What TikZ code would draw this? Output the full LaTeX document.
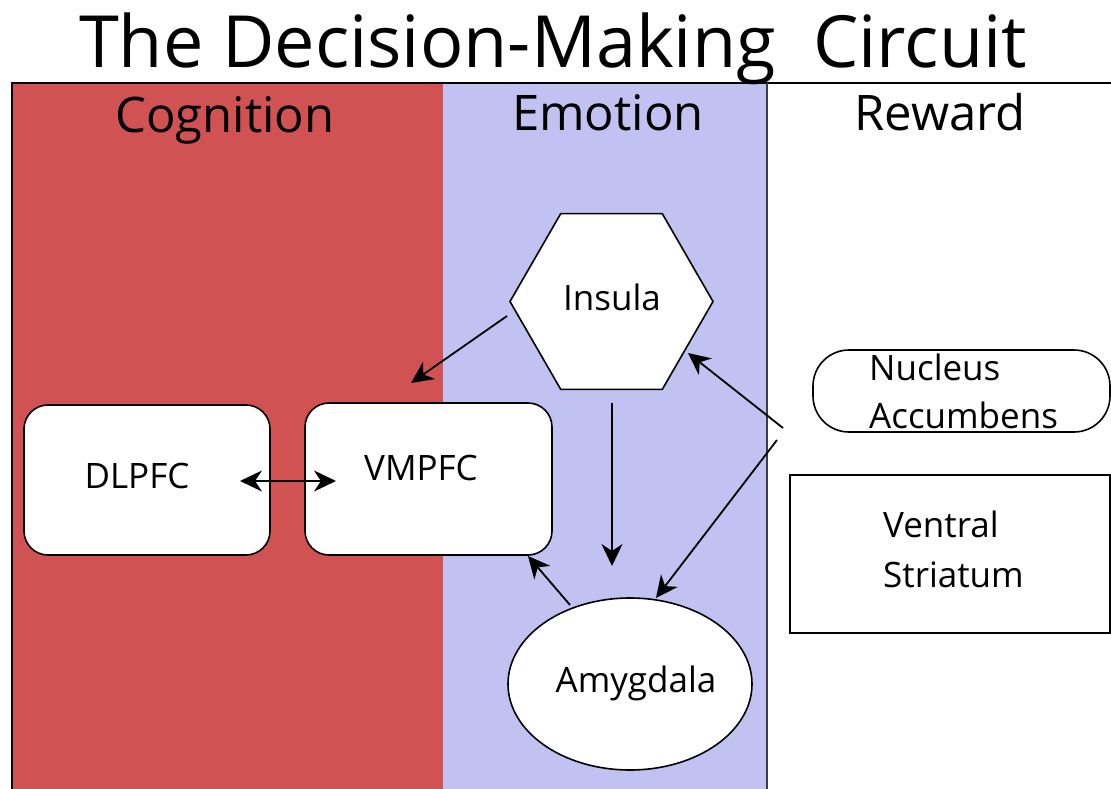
\documentclass[tikz,border=0pt]{standalone}
\usepackage{fontspec}
\setmainfont{Open Sans}
\usetikzlibrary{shapes.geometric,arrows.meta}
\definecolor{cogred}{RGB}{208,82,82}
\definecolor{emoblue}{RGB}{193,193,242}
\definecolor{divgray}{RGB}{60,60,70}
\begin{document}
\begin{tikzpicture}[x=1pt,y=-1pt,
  shapeline/.style={draw=black,line width=1.6pt,fill=white},
  rbox/.style={shapeline,rounded corners=24pt,inner sep=0pt},
  lbl/.style={font=\fontsize{35}{40}\selectfont,anchor=base,inner sep=0pt},
  lblw/.style={font=\fontsize{35}{40}\selectfont,anchor=base west,inner sep=0pt},
  hdr/.style={font=\fontsize{49}{54}\selectfont,anchor=base,inner sep=0pt},
  arr/.style={line width=1.8pt,-{Stealth[length=22pt,width=21pt,inset=7pt]}},
  darr/.style={line width=1.8pt,{Stealth[length=22pt,width=21pt,inset=7pt]}-{Stealth[length=22pt,width=21pt,inset=7pt]}}]
\useasboundingbox (0,0) rectangle (1111,789);
\fill[white] (0,0) rectangle (1111,789);
% panels
\fill[cogred] (12,83) rectangle (443,789);
\fill[emoblue] (443,83) rectangle (767,789);
\draw[line width=1.5pt] (12,789) -- (12,83) -- (1111,83);
\draw[line width=1.6pt,divgray] (767,83) -- (767,789);
% title and headers
\node[font=\fontsize{72}{80}\selectfont,anchor=base,inner sep=0pt] (title) at (553,68) {The Decision-Making\ \ Circuit};
\node[hdr] (hcog) at (225,133) {Cognition};
\node[hdr] (hemo) at (608,131) {Emotion};
\node[hdr] (hrew) at (940,131) {Reward};
% boxes
\node[rbox,minimum width=246pt,minimum height=150pt] (dlpfc) at (147,480) {};
\node[lbl] (dlpfct) at (137,488) {DLPFC};
\node[rbox,minimum width=247pt,minimum height=152pt] (vmpfc) at (428.5,479) {};
\node[lbl] (vmpfct) at (421,480) {VMPFC};
\node[regular polygon,regular polygon sides=6,minimum size=203pt,inner sep=0pt,shapeline] (insula) at (611.5,301.5) {};
\node[lbl] (insulat) at (612,310) {Insula};
\node[ellipse,minimum width=244pt,minimum height=172pt,inner sep=0pt,shapeline] (amyg) at (630,684) {};
\node[lbl] (amygt) at (636,692) {Amygdala};
\node[draw=black,line width=1.6pt,fill=white,rounded corners=36pt,minimum width=297pt,minimum height=82pt,inner sep=0pt] (nacc) at (961.5,391) {};
\node[lblw] (nacct1) at (869,380) {Nucleus};
\node[lblw] (nacct2) at (869,428) {Accumbens};
\node[draw=black,line width=1.6pt,fill=white,minimum width=320pt,minimum height=158pt,inner sep=0pt] (vstr) at (950,554) {};
\node[lblw] (vstrt1) at (883,537) {Ventral};
\node[lblw] (vstrt2) at (883,587) {Striatum};
% connector end points
\coordinate (dA) at (240,481);
\coordinate (vA) at (336,481);
\coordinate (insL) at (507,316);
\coordinate (vmTop) at (411,383);
\coordinate (insB) at (612,403);
\coordinate (amT) at (612,566);
\coordinate (amTL) at (570,605);
\coordinate (vmBR) at (528,556);
\coordinate (naA) at (783,428);
\coordinate (insR) at (688,353);
\coordinate (naB) at (777,440);
\coordinate (amTR) at (656,598);
% connectors
\draw[darr] (dA) -- (vA);
\draw[arr] (insL) -- (vmTop);
\draw[arr] (insB) -- (amT);
\draw[arr] (amTL) -- (vmBR);
\draw[arr] (naA) -- (insR);
\draw[arr] (naB) -- (amTR);
\end{tikzpicture}
\end{document}
